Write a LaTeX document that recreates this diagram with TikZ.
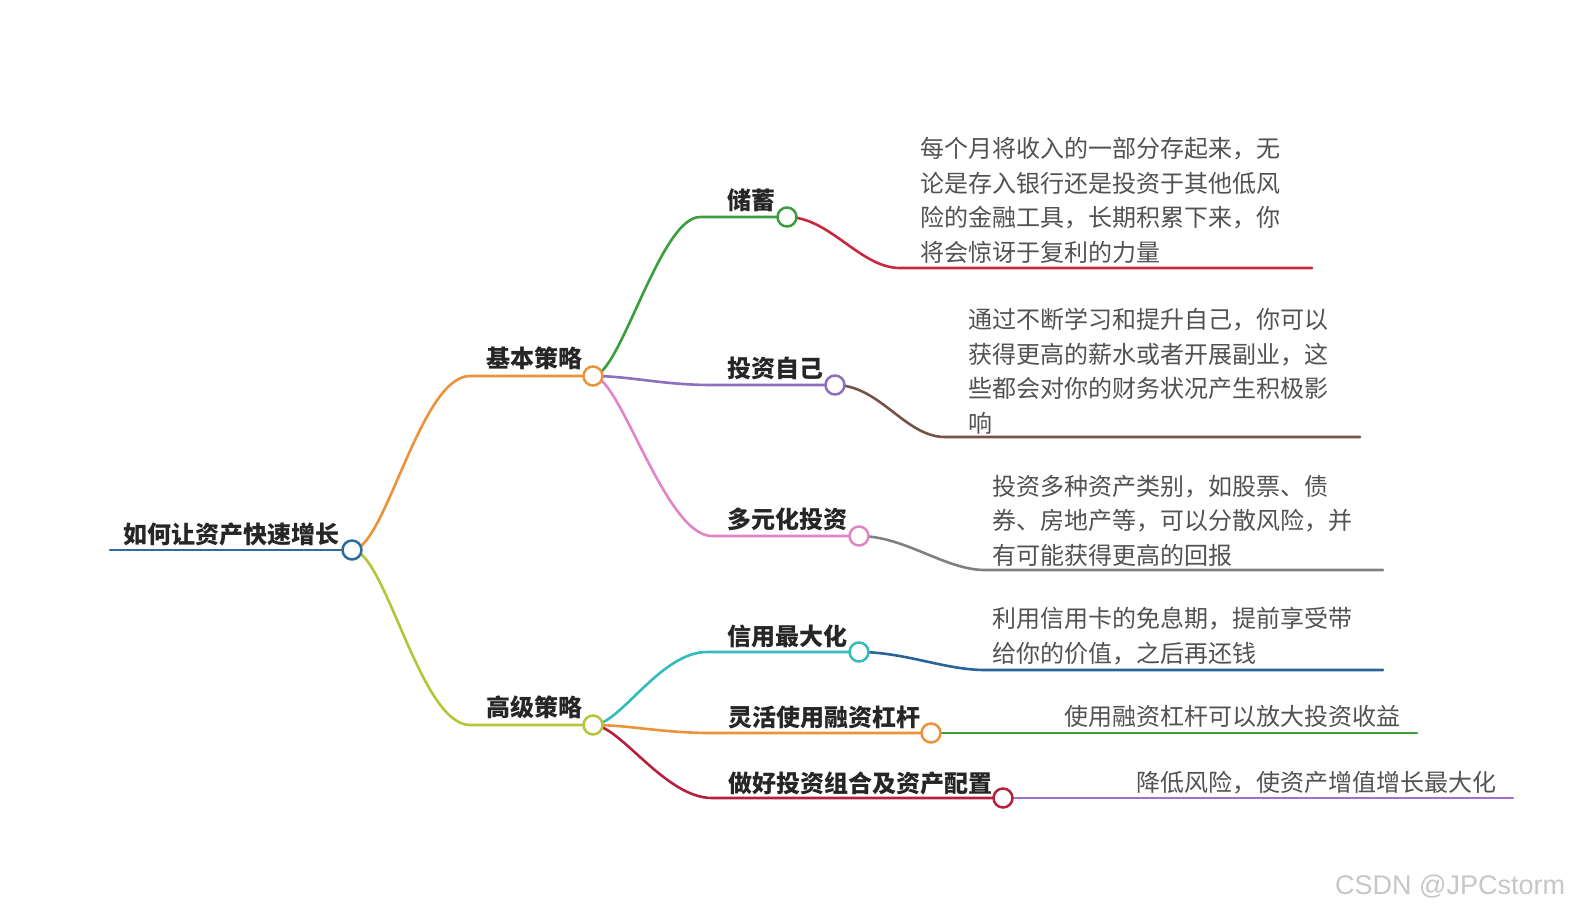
\documentclass[tikz,border=0pt]{standalone}
\usepackage{fontspec}
\setmainfont{Noto Sans CJK SC}
\newfontfamily\wmfont{Liberation Sans}
\definecolor{cBlue}{RGB}{46,108,160}
\definecolor{cOrange}{RGB}{236,146,56}
\definecolor{cOlive}{RGB}{182,196,56}
\definecolor{cGreen}{RGB}{58,158,60}
\definecolor{cRed}{RGB}{200,40,62}
\definecolor{cPurple}{RGB}{140,112,190}
\definecolor{cBrown}{RGB}{118,82,72}
\definecolor{cPink}{RGB}{226,132,200}
\definecolor{cGray}{RGB}{128,128,128}
\definecolor{cTeal}{RGB}{50,188,190}
\definecolor{cDBlue}{RGB}{40,100,150}
\definecolor{cCrimson}{RGB}{182,32,62}
\definecolor{cViolet}{RGB}{164,112,204}
\begin{document}
\begin{tikzpicture}[x=1pt,y=-1pt,
  br/.style={line width=2.6pt, line cap=round},
  dot/.style={circle, draw, fill=white, line width=2.5pt, minimum size=19pt, inner sep=0pt},
  lbl/.style={font=\fontsize{24}{28}\selectfont\bfseries, text=black!85, inner sep=0pt, anchor=west},
  desc/.style={font=\fontsize{24}{34.5}\selectfont, text=black!68, inner sep=0pt, anchor=north west, align=left}]
\useasboundingbox[fill=white] (0,0) rectangle (1571,916);
% centres
\coordinate (c0) at (352,550);
\coordinate (c1) at (593,376);
\coordinate (c2) at (593,725);
\coordinate (c11) at (787,217);
\coordinate (c12) at (835,385);
\coordinate (c13) at (859,536);
\coordinate (c21) at (859,652);
\coordinate (c22) at (931,733);
\coordinate (c23) at (1003,798);
\coordinate (s) at (110,550);
% bends
\coordinate (k1) at (470,376);
\coordinate (k2) at (470,725);
\coordinate (k11) at (700,217);
\coordinate (k12) at (712,385);
\coordinate (k13) at (712,536);
\coordinate (k21) at (707,652);
\coordinate (k22) at (712,733);
\coordinate (k23) at (712,798);
\coordinate (e11a) at (900,268); \coordinate (e11) at (1312,268);
\coordinate (e12a) at (945,437); \coordinate (e12) at (1360,437);
\coordinate (e13a) at (985,570); \coordinate (e13) at (1383,570);
\coordinate (e21a) at (985,670); \coordinate (e21) at (1383,670);
\coordinate (e22) at (1417,733);
\coordinate (e23) at (1513,798);
% connectors
\draw[br, cBlue, line width=2.9pt] (s) -- (c0);
\draw[br, cOrange] (c0) .. controls +(33,0) and +(-50,0) .. (k1) -- (c1);
\draw[br, cOlive] (c0) .. controls +(33,0) and +(-50,0) .. (k2) -- (c2);
\draw[br, cGreen] (c1) .. controls +(27,0) and +(-40,0) .. (k11) -- (c11);
\draw[br, cPurple] (c1) .. controls +(37,0) and +(-50,0) .. (k12) -- (c12);
\draw[br, cPink] (c1) .. controls +(27,0) and +(-47,0) .. (k13) -- (c13);
\draw[br, cTeal] (c2) .. controls +(27,0) and +(-47,0) .. (k21) -- (c21);
\draw[br, cOrange] (c2) .. controls +(37,0) and +(-50,0) .. (k22) -- (c22);
\draw[br, cCrimson] (c2) .. controls +(27,0) and +(-47,0) .. (k23) -- (c23);
\draw[br, cRed] (c11) .. controls +(43,0) and +(-40,0) .. (e11a) -- (e11);
\draw[br, cBrown] (c12) .. controls +(45,0) and +(-40,0) .. (e12a) -- (e12);
\draw[br, cGray] (c13) .. controls +(46,0) and +(-40,0) .. (e13a) -- (e13);
\draw[br, cDBlue] (c21) .. controls +(46,0) and +(-40,0) .. (e21a) -- (e21);
\draw[br, cGreen] (c22) -- (e22);
\draw[br, cViolet] (c23) -- (e23);
% circles
\node[dot, draw=cBlue] (n0) at (c0) {};
\node[dot, draw=cOrange] (n1) at (c1) {};
\node[dot, draw=cOlive] (n2) at (c2) {};
\node[dot, draw=cGreen] (n11) at (c11) {};
\node[dot, draw=cPurple] (n12) at (c12) {};
\node[dot, draw=cPink] (n13) at (c13) {};
\node[dot, draw=cTeal] (n21) at (c21) {};
\node[dot, draw=cOrange] (n22) at (c22) {};
\node[dot, draw=cCrimson] (n23) at (c23) {};
% labels
\node[lbl] (t0) at (123,534) {如何让资产快速增长};
\node[lbl] (t1) at (486,358) {基本策略};
\node[lbl] (t2) at (486,707) {高级策略};
\node[lbl] (t11) at (727,200) {储蓄};
\node[lbl] (t12) at (727,368) {投资自己};
\node[lbl] (t13) at (727,519) {多元化投资};
\node[lbl] (t21) at (727,636) {信用最大化};
\node[lbl] (t22) at (728,717) {灵活使用融资杠杆};
\node[lbl] (t23) at (728,783) {做好投资组合及资产配置};
% descriptions
\node[desc] (d11) at (920,137) {每个月将收入的一部分存起来，无\\论是存入银行还是投资于其他低风\\险的金融工具，长期积累下来，你\\将会惊讶于复利的力量};
\node[desc] (d12) at (968,308) {通过不断学习和提升自己，你可以\\获得更高的薪水或者开展副业，这\\些都会对你的财务状况产生积极影\\响};
\node[desc] (d13) at (992,475) {投资多种资产类别，如股票、债\\券、房地产等，可以分散风险，并\\有可能获得更高的回报};
\node[desc] (d21) at (992,607) {利用信用卡的免息期，提前享受带\\给你的价值，之后再还钱};
\node[desc] (d22) at (1064,705) {使用融资杠杆可以放大投资收益};
\node[desc] (d23) at (1136,771) {降低风险，使资产增值增长最大化};
% watermark
\node[font=\wmfont\fontsize{27}{30}\selectfont, text=black!22, anchor=west, inner sep=0pt] (wm) at (1335,887) {CSDN @JPCstorm};
\end{tikzpicture}
\end{document}
